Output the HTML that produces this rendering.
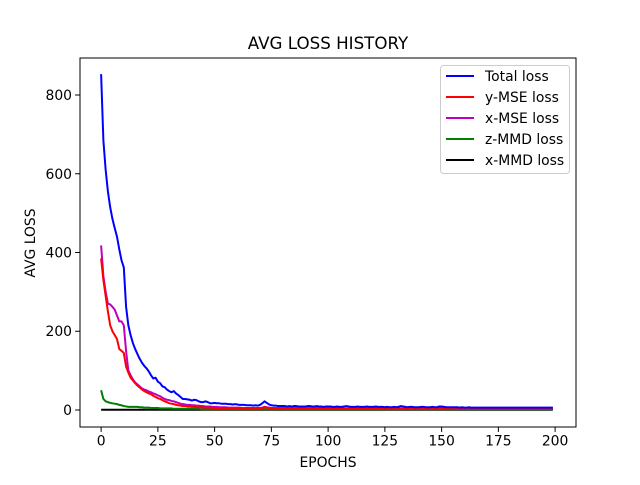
<!DOCTYPE html>
<html><head><meta charset="utf-8"><style>
html,body{margin:0;padding:0;background:#fff}
svg text{font-family:"DejaVu Sans","Liberation Sans",sans-serif}
</style></head><body>
<svg id="chart" width="640" height="480" xmlns="http://www.w3.org/2000/svg">
<rect width="640" height="480" fill="#fff"/>
<text x="328" y="49" font-size="16.7" text-anchor="middle">AVG LOSS HISTORY</text>
<text x="328" y="467" font-size="13.9" text-anchor="middle">EPOCHS</text>
<text x="35" y="243" font-size="13.9" text-anchor="middle" transform="rotate(-90 35 243)">AVG LOSS</text>
<g id="ticks"></g>
<g id="series" clip-path="url(#clip)"></g>
<defs><clipPath id="clip"><rect x="80" y="58" width="496" height="369"/></clipPath></defs>
<rect x="80" y="58" width="496" height="369" fill="none" stroke="#000" stroke-width="1"/>
<g id="legend">
<rect x="440.5" y="65.5" width="129" height="108" rx="3" fill="#fff" fill-opacity="0.8" stroke="#ccc"/>
</g>
</svg>
<script>
const xTicks=[0,25,50,75,100,125,150,175,200];
const yTicks=[0,200,400,600,800];
const seriesNames=["Total loss","y-MSE loss","x-MSE loss","z-MMD loss","x-MMD loss"];
const seriesColors=["#0000ff","#ff0000","#bf00bf","#008000","#000000"];
const totalLoss=[853,685,610,555,515,485,462,440,408,380,
362,262,215,190,170,155,142,130,120,112,
106,98,88,80,82,72,68,60,58,52,
48,45,48,42,38,33,28,28,27,26,
24,26,25,22,20,20,22,20,17,17,
18,17,17,16,16,16,15,15,14,15,
14,13,13,13,12,12,12,11,12,11,
13,17,22,18,14,12,11,11,10,10,
10,10,9,10,9,10,10,9,9,9,
9,10,10,9,9,10,9,9,8,9,
9,9,8,8,9,8,8,9,10,9,
8,8,8,9,8,8,8,9,8,8,
8,9,8,8,8,7,8,7,7,8,
7,8,10,9,8,7,8,8,7,7,
7,8,8,7,7,7,8,7,7,9,
9,8,7,7,7,7,7,7,6,7,
6,6,7,6,6,6,6,6,6,6,
6,6,6,6,6,6,6,6,6,6,
6,6,6,6,6,6,6,6,6,6,
6,6,6,6,6,6,6,6,6,6];
const yMse=[385,330,290,250,215,200,190,180,155,150,
145,110,95,82,75,68,62,57,52,48,
45,42,40,36,33,30,28,25,22,20,
17,16,15,13,12,11,10,10,9,9,
8,8,7,7,7,6,6,6,6,5,
5,5,5,5,5,5,5,4,4,4,
4,4,4,4,4,4,4,4,4,4,
4,5,7,6,5,4,4,4,4,4,
4,4,4,4,4,4,4,4,4,4,
4,4,4,4,4,4,4,4,4,4,
4,4,4,4,4,4,4,4,4,4,
4,4,4,4,4,4,4,4,4,4,
4,4,4,4,4,4,4,4,4,4,
4,4,4,4,4,4,4,4,4,4,
4,4,4,4,4,4,4,4,4,4,
3,3,3,3,3,3,3,3,3,3,
3,3,3,3,3,3,3,3,3,3,
3,3,3,3,3,3,3,3,3,3,
3,3,3,3,3,3,3,3,3,3,
3,3,3,3,3,3,3,3,3,3];
const xMse=[418,340,300,270,268,262,255,240,225,225,
215,150,100,88,78,70,65,60,55,52,
50,47,45,42,40,37,35,31,28,26,
25,23,22,20,18,16,15,14,13,13,
12,12,11,11,10,10,9,9,9,8,
8,8,7,7,7,7,6,6,6,6,
6,6,5,5,5,5,5,5,5,5,
5,6,8,7,6,5,5,5,5,5,
5,5,5,5,5,5,5,5,5,5,
5,5,5,5,5,5,5,5,4,4,
4,4,4,4,4,4,4,4,4,4,
4,4,4,4,4,4,4,4,4,4,
4,4,4,4,4,4,4,4,4,4,
4,4,4,4,4,4,4,4,4,4,
4,4,4,4,4,4,4,4,4,4,
4,4,4,4,4,4,4,4,4,4,
4,4,4,4,4,4,4,4,4,4,
4,4,4,4,4,4,4,4,4,4,
4,4,4,4,4,4,4,4,4,4,
4,4,4,4,4,4,4,4,4,4];
const zMmd=[50,28,22,20,18,17,16,15,13,12,
10,9,8,8,8,8,8,7,7,6,
6,6,5,5,5,5,4,4,4,4,
4,4,3,3,3,3,3,3,3,3,
3,3,3,3,2,2,2,2,2,2,
2,2,2,2,2,2,2,2,2,2,
2,2,2,2,2,2,2,2,2,2,
2,2,2,2,2,2,2,2,2,2,
2,2,2,2,2,2,2,2,2,2,
2,2,2,2,2,2,2,2,2,2,
2,2,2,2,2,2,2,2,2,2,
2,2,2,2,2,2,2,2,2,2,
2,2,2,2,2,2,2,2,2,2,
2,2,2,2,2,2,2,2,2,2,
2,2,2,2,2,2,2,2,2,2,
2,2,2,2,2,2,2,2,2,2,
2,2,2,2,2,2,2,2,2,2,
2,2,2,2,2,2,2,2,2,2,
2,2,2,2,2,2,2,2,2,2,
2,2,2,2,2,2,2,2,2,2];
const xMmd=Array(200).fill(0.5);

const NS="http://www.w3.org/2000/svg";
const X0=80,X1=576,Y0=58,Y1=427;
const xMin=-9.3,xMax=209.2,yMin=-43.2,yMax=894;
function sx(v){return X0+(v-xMin)/(xMax-xMin)*(X1-X0);}
function sy(v){return Y1-(v-yMin)/(yMax-yMin)*(Y1-Y0);}
function mk(tag,attrs,parent){const e=document.createElementNS(NS,tag);for(const k in attrs)e.setAttribute(k,attrs[k]);parent.appendChild(e);return e;}
const tg=document.getElementById('ticks');
xTicks.forEach(t=>{
  const l=mk('line',{x1:sx(t),x2:sx(t),y1:Y1,y2:Y1+4.9,stroke:'#000','stroke-width':1},tg);
  
  
  const tx=mk('text',{x:sx(t),y:Y1+18.5,'font-size':13.9,'text-anchor':'middle'},tg);
  tx.textContent=t;
  
  
});
yTicks.forEach(t=>{
  const l=mk('line',{x1:X0-4.9,x2:X0,y1:sy(t),y2:sy(t),stroke:'#000','stroke-width':1},tg);
  
  
  const tx=mk('text',{x:X0-8,y:sy(t)+5,'font-size':13.9,'text-anchor':'end'},tg);
  tx.textContent=t;
  
  
});
const allSeries=[totalLoss,yMse,xMse,zMmd,xMmd];
const sg=document.getElementById('series');
const order=[4,3,2,1,0];
order.forEach(i=>{
  const pts=allSeries[i].map((v,k)=>sx(k).toFixed(2)+','+sy(v).toFixed(2)).join(' ');
  const p=mk('polyline',{points:pts,fill:'none',stroke:seriesColors[i],'stroke-width':2,'stroke-linejoin':'round'},sg);
  
  
});
const lg=document.getElementById('legend');
seriesNames.forEach((n,i)=>{
  const y=76+i*21;
  const l=mk('line',{x1:446,x2:474,y1:y,y2:y,stroke:seriesColors[i],'stroke-width':2},lg);
  
  
  const t=mk('text',{x:485,y:y+5,'font-size':13.9},lg);
  t.textContent=n;
  
  
});
</script>
</body></html>
